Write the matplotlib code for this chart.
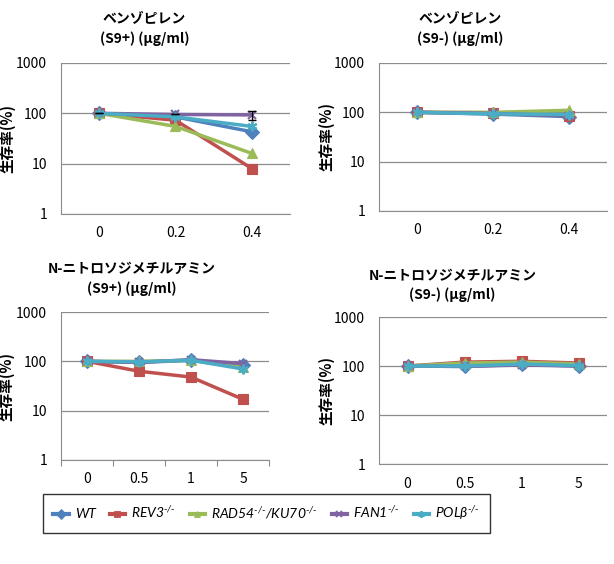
import matplotlib
matplotlib.use('Agg')
import matplotlib.pyplot as plt
from matplotlib.lines import Line2D

plt.rcParams['font.family'] = ['Noto Sans CJK JP', 'DejaVu Sans']
plt.rcParams['mathtext.fontset'] = 'custom'
plt.rcParams['mathtext.rm'] = 'Lato:italic'
plt.rcParams['mathtext.it'] = 'Lato:italic'

# strains / series
strains = ['WT', 'REV3', 'RAD54/KU70', 'FAN1', 'POLB']
legend_labels = ['WT', r'REV3$^{\text{-/-}}$', r'RAD54$^{\text{-/-}}$/KU70$^{\text{-/-}}$',
                 r'FAN1$^{\text{-/-}}$', r'POLβ$^{\text{-/-}}$']
colors = ['#4F81BD', '#C0504D', '#9BBB59', '#8064A2', '#4BACC6']
markers = ['D', 's', '^', 'x', (6, 2, 0)]

# ベンゾピレン
bp_doses = ['0', '0.2', '0.4']
bp_s9p = {
    'WT': [100, 85, 43],
    'REV3': [100, 73, 8],
    'RAD54/KU70': [100, 55, 16],
    'FAN1': [100, 95, 93],
    'POLB': [100, 85, 55],
}
bp_s9p_fan1_err = [0, 0, 20]
bp_s9m = {
    'WT': [100, 92, 82],
    'REV3': [100, 98, 85],
    'RAD54/KU70': [100, 100, 110],
    'FAN1': [100, 95, 85],
    'POLB': [100, 93, 90],
}

# N-ニトロソジメチルアミン
nd_doses = ['0', '0.5', '1', '5']
nd_s9p = {
    'WT': [100, 95, 105, 85],
    'REV3': [100, 63, 48, 17],
    'RAD54/KU70': [100, 100, 105, 75],
    'FAN1': [100, 95, 108, 90],
    'POLB': [100, 98, 105, 70],
}
nd_s9m = {
    'WT': [100, 98, 108, 100],
    'REV3': [100, 120, 125, 115],
    'RAD54/KU70': [100, 115, 120, 110],
    'FAN1': [100, 98, 105, 100],
    'POLB': [100, 100, 110, 102],
}

fig = plt.figure(figsize=(6.14, 5.64), dpi=100)

# position, doses, data, title, title pos, boundary ticks, ylabel x
panels = [
    ([0.0993, 0.6206, 0.3730, 0.2677], bp_doses, bp_s9p, 'ベンゾピレン\n(S9+) (µg/ml)', (0.235, 0.978), False, -0.200),
    ([0.6173, 0.6259, 0.3713, 0.2624], bp_doses, bp_s9m, 'ベンゾピレン\n(S9-) (µg/ml)', (0.75, 0.978), False, -0.197),
    ([0.0993, 0.1844, 0.3388, 0.2624], nd_doses, nd_s9p, 'N-ニトロソジメチルアミン\n(S9+) (µg/ml)', (0.215, 0.536), True, -0.221),
    ([0.6173, 0.1773, 0.3713, 0.2606], nd_doses, nd_s9m, 'N-ニトロソジメチルアミン\n(S9-) (µg/ml)', (0.737, 0.524), False, -0.193),
]

for i, (pos, doses, data, title, tpos, xticks, ylx) in enumerate(panels):
    ax = fig.add_axes(pos)
    for s, c, m in zip(strains, colors, markers):
        ms = 7 if m != 'x' else 6
        ax.plot(doses, data[s], color=c, marker=m, markersize=ms, linewidth=2.5,
                markeredgewidth=1.5 if m in ('x', (6, 2, 0)) else 0.8,
                markeredgecolor=c, zorder=3)
        if i == 0 and s == 'FAN1':
            ax.errorbar(doses, data[s], yerr=bp_s9p_fan1_err, fmt='none', ecolor='black',
                        elinewidth=1, capsize=3, zorder=4)
    ax.set_yscale('log')
    ax.set_ylim(1, 1000)
    ax.set_xlim(-0.5, len(doses) - 0.5)
    ax.set_yticks([1, 10, 100, 1000])
    ax.set_yticklabels(['1', '10', '100', '1000'])
    ax.minorticks_off()
    ax.yaxis.grid(True, color='#8c8c8c', linewidth=0.9)
    ax.set_axisbelow(True)
    for sp in ['top', 'right']:
        ax.spines[sp].set_visible(False)
    ax.spines['left'].set_color('#8c8c8c')
    ax.spines['bottom'].set_color('#8c8c8c')
    ax.tick_params(axis='y', length=0, labelsize=10, pad=10)
    if xticks:
        ax.set_xticks([k + 0.5 for k in range(len(doses) - 1)] + [-0.5, len(doses) - 0.5])
        ax.set_xticklabels([''] * (len(doses) + 1))
        ax.tick_params(axis='x', length=4, color='#8c8c8c')
        for k, d in enumerate(doses):
            ax.text(k, -0.13, d, transform=ax.get_xaxis_transform(), ha='center', va='center', fontsize=10)
    else:
        ax.tick_params(axis='x', length=0, labelsize=10, pad=9)
    ax.set_ylabel('生存率(%)', fontsize=10.5, fontweight='bold')
    ax.yaxis.set_label_coords(ylx, 0.5)
    fig.text(tpos[0], tpos[1], title, ha='center', va='top', fontsize=10, fontweight='bold',
             linespacing=1.45)

handles = [Line2D([], [], color=c, marker=m, markersize=5, linewidth=3,
                  markeredgewidth=1.3 if m in ('x', (6, 2, 0)) else 0.6, markeredgecolor=c)
           for c, m in zip(colors, markers)]
leg = fig.legend(handles, legend_labels, loc='center', bbox_to_anchor=(0.434, 0.0895),
                 ncol=5, frameon=True, fancybox=False, edgecolor='black',
                 prop={'family': ['Lato', 'DejaVu Sans'], 'style': 'italic', 'size': 10},
                 handlelength=1.1, columnspacing=1.0, handletextpad=0.45, borderpad=0.75,
                 borderaxespad=0)
leg.get_frame().set_linewidth(1.0)

fig.savefig('out.png', dpi=100)
